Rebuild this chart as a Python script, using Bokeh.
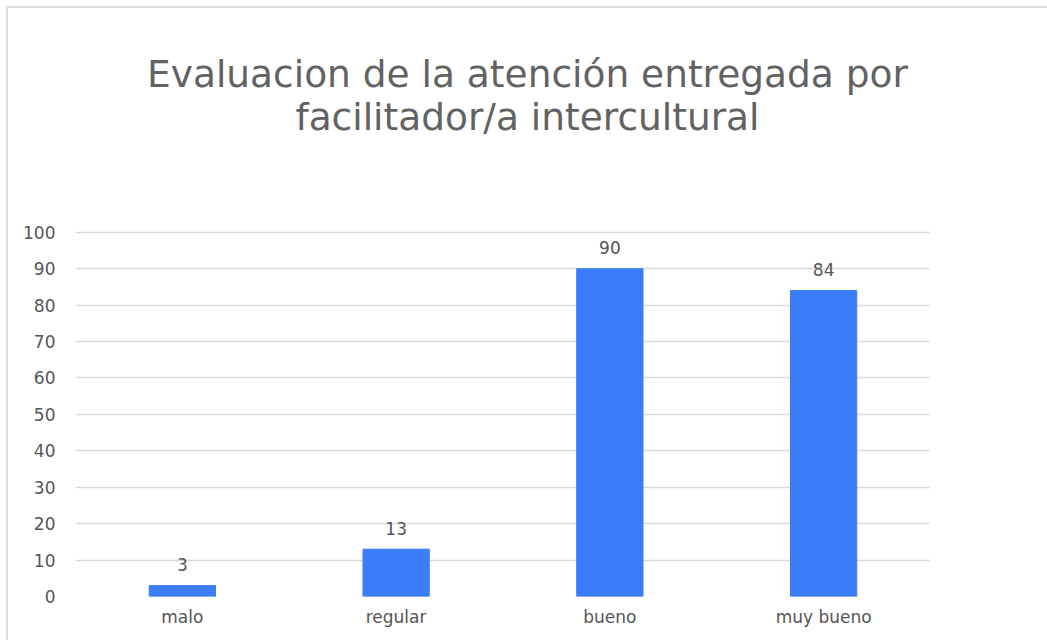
from bokeh.plotting import figure
from bokeh.models import ColumnDataSource, Range1d, SingleIntervalTicker, Div
from bokeh.layouts import column
from bokeh.core.properties import value
from bokeh.embed import file_html
from bokeh.resources import INLINE

categories = ["malo", "regular", "bueno", "muy bueno"]
counts = [3, 13, 90, 84]
title_lines = ["Evaluacion de la atención entregada por", "facilitador/a intercultural"]

FONT = "DejaVu Sans"
source = ColumnDataSource(dict(cat=categories, val=counts, lbl=[str(v) for v in counts]))

title = Div(text="<br>".join(title_lines), width=1039, height=160, margin=0,
            styles={"font-family": FONT, "font-size": "37.5px", "line-height": "43px",
                    "color": "#626262", "text-align": "center", "padding-top": "45px",
                    "box-sizing": "border-box", "width": "1039px", "padding-left": "0px"})

p = figure(x_range=categories, y_range=Range1d(0, 100.5),
           width=1039, height=472, output_backend="svg", toolbar_location=None,
           min_border_left=67, min_border_right=117, min_border_top=62, min_border_bottom=44,
           outline_line_color=None, background_fill_color="white", border_fill_color="white",
           margin=0)

p.vbar(x="cat", top="val", width=0.31, source=source, color="#3b7cf9", line_color="#3b7cf9")
p.text(x="cat", y="val", text="lbl", source=source, text_align="center", text_baseline="alphabetic",
       y_offset=-21, text_font=value(FONT), text_font_size="17px", text_color="#555555")

p.xgrid.grid_line_color = None
p.ygrid.grid_line_color = "#d9d9d9"
p.ygrid.grid_line_width = 1.5
p.yaxis.ticker = SingleIntervalTicker(interval=10)
for ax in (p.xaxis, p.yaxis):
    ax.axis_line_color = None
    ax.major_tick_line_color = None
    ax.minor_tick_line_color = None
    ax.major_label_text_font = FONT
    ax.major_label_text_font_size = "17px"
    ax.major_label_text_color = "#555555"
p.yaxis.major_label_standoff = 14
p.xaxis.major_label_standoff = 4

layout = column(title, p, spacing=0, margin=(6, 0, 0, 6),
                styles={"border-left": "2px solid #dcdcdc", "border-top": "2px solid #dcdcdc"})

open("out.html", "w").write(file_html(layout, INLINE))
